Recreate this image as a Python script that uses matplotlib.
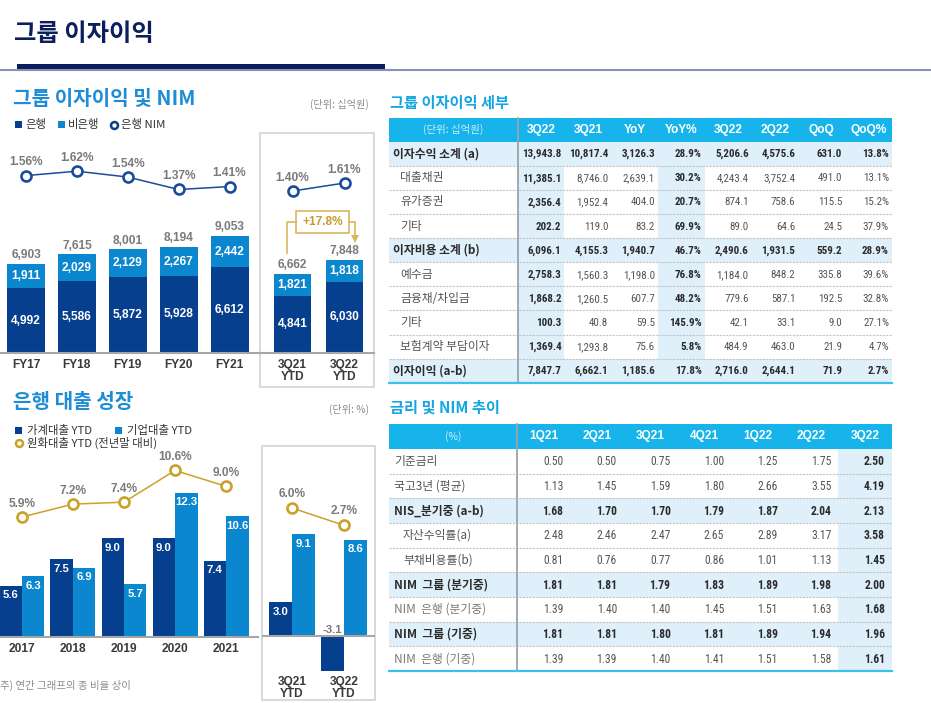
import matplotlib

matplotlib.use("Agg")
import matplotlib.pyplot as plt
from matplotlib import font_manager
from matplotlib.patches import Polygon, Rectangle

W, H = 931, 703

# group net interest income (KRW bn) and bank NIM
fy_labels = ["FY17", "FY18", "FY19", "FY20", "FY21"]
bank_nii = [4992, 5586, 5872, 5928, 6612]
nonbank_nii = [1911, 2029, 2129, 2267, 2442]
total_nii = [6903, 7615, 8001, 8194, 9053]
bank_nim = [1.56, 1.62, 1.54, 1.37, 1.41]

ytd_labels = ["3Q21\nYTD", "3Q22\nYTD"]
bank_nii_ytd = [4841, 6030]
nonbank_nii_ytd = [1821, 1818]
total_nii_ytd = [6662, 7848]
bank_nim_ytd = [1.40, 1.61]
nii_yoy_text = "+17.8%"

# bank loan growth (%)
loan_years = ["2017", "2018", "2019", "2020", "2021"]
household_growth = [5.6, 7.5, 9.0, 9.0, 7.4]
corporate_growth = [6.3, 6.9, 5.7, 12.3, 10.6]
krw_loan_growth = [5.9, 7.2, 7.4, 10.6, 9.0]
household_ytd = [3.0, -3.1]
corporate_ytd = [9.1, 8.6]
krw_loan_ytd = [6.0, 2.7]

# table: group interest income detail
detail_cols = ["3Q22", "3Q21", "YoY", "YoY%", "3Q22", "2Q22", "QoQ", "QoQ%"]
detail_rows = ["이자수익 소계 (a)", "대출채권", "유가증권", "기타", "이자비용 소계 (b)",
               "예수금", "금융채/차입금", "기타", "보험계약 부담이자", "이자이익 (a-b)"]
detail_values = [
    [13943.8, 10817.4, 3126.3, 28.9, 5206.6, 4575.6, 631.0, 13.8],
    [11385.1, 8746.0, 2639.1, 30.2, 4243.4, 3752.4, 491.0, 13.1],
    [2356.4, 1952.4, 404.0, 20.7, 874.1, 758.6, 115.5, 15.2],
    [202.2, 119.0, 83.2, 69.9, 89.0, 64.6, 24.5, 37.9],
    [6096.1, 4155.3, 1940.7, 46.7, 2490.6, 1931.5, 559.2, 28.9],
    [2758.3, 1560.3, 1198.0, 76.8, 1184.0, 848.2, 335.8, 39.6],
    [1868.2, 1260.5, 607.7, 48.2, 779.6, 587.1, 192.5, 32.8],
    [100.3, 40.8, 59.5, 145.9, 42.1, 33.1, 9.0, 27.1],
    [1369.4, 1293.8, 75.6, 5.8, 484.9, 463.0, 21.9, 4.7],
    [7847.7, 6662.1, 1185.6, 17.8, 2716.0, 2644.1, 71.9, 2.7],
]
detail_bold_rows = [0, 4, 9]
detail_pct_cols = [3, 7]

# table: rates and NIM trend (%)
rate_cols = ["1Q21", "2Q21", "3Q21", "4Q21", "1Q22", "2Q22", "3Q22"]
rate_rows = ["기준금리", "국고3년 (평균)", "NIS_분기중 (a-b)", "자산수익률(a)", "부채비용률(b)",
             "NIM  그룹 (분기중)", "NIM  은행 (분기중)", "NIM  그룹 (기중)", "NIM  은행 (기중)"]
rate_values = [
    [0.50, 0.50, 0.75, 1.00, 1.25, 1.75, 2.50],
    [1.13, 1.45, 1.59, 1.80, 2.66, 3.55, 4.19],
    [1.68, 1.70, 1.70, 1.79, 1.87, 2.04, 2.13],
    [2.48, 2.46, 2.47, 2.65, 2.89, 3.17, 3.58],
    [0.81, 0.76, 0.77, 0.86, 1.01, 1.13, 1.45],
    [1.81, 1.81, 1.79, 1.83, 1.89, 1.98, 2.00],
    [1.39, 1.40, 1.40, 1.45, 1.51, 1.63, 1.68],
    [1.81, 1.81, 1.80, 1.81, 1.89, 1.94, 1.96],
    [1.39, 1.39, 1.40, 1.41, 1.51, 1.58, 1.61],
]
rate_bold_rows = [2, 5, 7]
rate_indent_rows = [3, 4]
rate_light_rows = [6, 8]

NAVY = "#063f8e"
SKY = "#0b87d0"
GOLD = "#c9a227"
GREY_LABEL = "#7a7a7a"
TITLE_BLUE = "#1f8dd6"
TABLE_CYAN = "#16b4ea"
SHADE = "#dff0fb"


def first_font(names):
    for name in names:
        try:
            font_manager.findfont(font_manager.FontProperties(family=name), fallback_to_default=False)
            return name
        except ValueError:
            continue
    return None


LATIN = first_font(["Liberation Sans", "Arimo"]) or "DejaVu Sans"
NARROW = first_font(["Liberation Sans Narrow", "Arial Narrow", "Roboto Condensed", "DejaVu Sans Condensed"])
KR = first_font(["Noto Sans CJK KR", "Noto Sans CJK SC"]) or "DejaVu Sans"
plt.rcParams["font.family"] = [LATIN, KR, "DejaVu Sans"]
if NARROW:
    NUM_FONT, NUM_SIZE_1, NUM_SIZE_2 = NARROW, 7.9, 8.4
else:
    NUM_FONT, NUM_SIZE_1, NUM_SIZE_2 = LATIN, 7.8, 8.0

fig = plt.figure(figsize=(W / 100, H / 100), dpi=100)
canvas = fig.add_axes([0, 0, 1, 1])
canvas.set_xlim(0, W)
canvas.set_ylim(H, 0)
canvas.axis("off")


def px_axes(x0, y0, x1, y1):
    ax = fig.add_axes([x0 / W, 1 - y1 / H, (x1 - x0) / W, (y1 - y0) / H])
    ax.set_facecolor("none")
    return ax


def kr_text(x, y, s, size, color, weight="normal", ha="left", va="center"):
    canvas.text(x, y, s, fontsize=size, color=color, fontweight=weight, ha=ha, va=va,
                family=[KR, "DejaVu Sans"])


# ---- header ----
canvas.plot([0, W], [70, 70], color="#8893b3", lw=1.5, solid_capstyle="butt")
canvas.add_patch(Rectangle((17, 64), 368, 6.5, color="#0b1d5c", lw=0))
kr_text(14, 34, "그룹 이자이익", 17.5, "#0b1f5c", "bold")

# ---- left top panel ----
kr_text(13, 98, "그룹 이자이익 및 NIM", 14.5, TITLE_BLUE, "bold")
kr_text(369, 104, "(단위: 십억원)", 7.3, "#8c8c8c", ha="right")
canvas.add_patch(Rectangle((15, 121), 6.5, 6.5, color=NAVY, lw=0))
kr_text(25, 124.5, "은행", 8.2, "#333333")
canvas.add_patch(Rectangle((58, 121), 6.5, 6.5, color=SKY, lw=0))
kr_text(68, 124.5, "비은행", 8.2, "#333333")
canvas.plot([113.5], [124.5], marker="o", ms=5, mfc="white", mec=NAVY, mew=1.8)
kr_text(121, 124.5, "은행 NIM", 8.2, "#333333")
canvas.add_patch(Rectangle((260, 133), 114, 254, fill=False, ec="#d3d3d3", lw=1.2))


def style_base(ax, labels, pad, size=8.6):
    ax.set_xticks(range(len(labels)), labels, fontweight="bold", color="#3a3a3a", fontsize=size,
                  linespacing=1.0)
    ax.tick_params(axis="x", length=0, pad=pad)
    ax.set_yticks([])
    for side in ["top", "right", "left"]:
        ax.spines[side].set_visible(False)
    ax.spines["bottom"].set_color("#a6a6a6")
    ax.spines["bottom"].set_linewidth(1.5)


def stacked(ax, bank, nonbank, total, width):
    x = list(range(len(bank)))
    ax.bar(x, bank, width, color=NAVY, lw=0)
    ax.bar(x, nonbank, width, bottom=bank, color=SKY, lw=0)
    for i in x:
        ax.text(i, bank[i] / 2, f"{bank[i]:,}", ha="center", va="center", color="white",
                fontsize=8.6, fontweight="bold")
        ax.text(i, bank[i] + nonbank[i] / 2, f"{nonbank[i]:,}", ha="center", va="center",
                color="white", fontsize=8.6, fontweight="bold")
        ax.annotate(f"{total[i]:,}", (i, total[i]), xytext=(0, 2), textcoords="offset points",
                    ha="center", va="bottom", color=GREY_LABEL, fontsize=8.6, fontweight="bold")


def nim_line(ax, values, color, fmt="{:.2f}%", off=9.5):
    x = list(range(len(values)))
    ax.plot(x, values, color=color, lw=1.1, marker="o", ms=7.2, mfc="white", mec=color, mew=1.9)
    for i, v in enumerate(values):
        ax.annotate(fmt.format(v), (i, v), xytext=(0, off), textcoords="offset points",
                    ha="center", va="center", color=GREY_LABEL, fontsize=8.6, fontweight="bold")
    ax.axis("off")


ax1 = px_axes(0, 135, 258, 352.7)
ax1.set_xlim(-0.511, 4.558)
ax1.set_ylim(0, 217.7 / 0.0129)
stacked(ax1, bank_nii, nonbank_nii, total_nii, 0.75)
style_base(ax1, fy_labels, 4.3)
ax1n = px_axes(0, 135, 258, 352.7)
ax1n.set_xlim(ax1.get_xlim())
ax1n.set_ylim(-0.8595, 2.1145)
nim_line(ax1n, bank_nim, "#1a4c9c")

ax2 = px_axes(260, 135, 374, 352.7)
ax2.set_xlim(-0.625, 1.567)
ax2.set_ylim(0, 217.7 / 0.0118)
stacked(ax2, bank_nii_ytd, nonbank_nii_ytd, total_nii_ytd, 0.71)
style_base(ax2, ytd_labels, 4.3)
ax2n = px_axes(260, 135, 374, 352.7)
ax2n.set_xlim(ax2.get_xlim())
ax2n.set_ylim(-2.855, 2.874)
nim_line(ax2n, bank_nim_ytd, "#1a4c9c")

# YoY callout
canvas.plot([287, 287, 296], [253, 222, 222], color="#d9b55e", lw=1.2)
canvas.plot([349, 355, 355], [222, 222, 236], color="#d9b55e", lw=1.2)
canvas.add_patch(Polygon([(351, 235), (359, 235), (355, 243)], closed=True, color="#d9b55e", lw=0))
canvas.add_patch(Rectangle((296, 211), 53, 22, fc="white", ec="#d9b55e", lw=1.2))
canvas.text(322.5, 222, nii_yoy_text, ha="center", va="center", fontsize=8.6, fontweight="bold",
            color="#c99a2e")

# ---- left bottom panel ----
kr_text(13, 402, "은행 대출 성장", 14.5, TITLE_BLUE, "bold")
kr_text(369, 409, "(단위: %)", 7.3, "#8c8c8c", ha="right")
canvas.add_patch(Rectangle((15, 427), 6.5, 6.5, color=NAVY, lw=0))
kr_text(27, 430.5, "가계대출 YTD", 8.2, "#333333")
canvas.add_patch(Rectangle((115, 427), 6.5, 6.5, color=SKY, lw=0))
kr_text(127, 430.5, "기업대출 YTD", 8.2, "#333333")
canvas.plot([18.5], [443], marker="o", ms=5, mfc="white", mec=GOLD, mew=1.8)
kr_text(27, 443, "원화대출 YTD (전년말 대비)", 8.2, "#333333")
kr_text(0, 685, "주) 연간 그래프의 종 비율 상이", 7.5, "#8c8c8c")
canvas.add_patch(Rectangle((262, 446), 113, 254, fill=False, ec="#d3d3d3", lw=1.2))


def paired(ax, dark, light, width):
    x = list(range(len(dark)))
    ax.bar([i - width / 2 for i in x], dark, width, color=NAVY, lw=0)
    ax.bar([i + width / 2 for i in x], light, width, color=SKY, lw=0)
    for i in x:
        for xx, v in [(i - width / 2, dark[i]), (i + width / 2, light[i])]:
            if v >= 0:
                ax.annotate(f"{v:.1f}", (xx, v), xytext=(0, -7), textcoords="offset points",
                            ha="center", va="center", color="white", fontsize=8.2, fontweight="bold")
            else:
                ax.annotate(f"{v:.1f}", (xx, 0), xytext=(0, 1), textcoords="offset points",
                            ha="center", va="bottom", color=GREY_LABEL, fontsize=8.2,
                            fontweight="bold")


ax3 = px_axes(0, 450, 258, 636.7)
ax3.set_xlim(-0.431, 4.627)
ax3.set_ylim(1.93, 1.93 + 186.7 / 13.9)
paired(ax3, household_growth, corporate_growth, 0.441)
style_base(ax3, loan_years, 4.3)
ax3n = px_axes(0, 450, 258, 636.7)
ax3n.set_xlim(ax3.get_xlim())
ax3n.set_ylim(-6.19, 12.668)
nim_line(ax3n, krw_loan_growth, GOLD, "{:.1f}%", 9.5)

ax4 = px_axes(262, 450, 375, 672)
ax4.set_xlim(-0.577, 1.596)
ax4.set_ylim(-36 / 11.2, 186 / 11.2)
paired(ax4, household_ytd, corporate_ytd, 0.433)
style_base(ax4, ytd_labels, 3.0)
ax4.spines["bottom"].set_visible(False)
ax4.axhline(0, color="#a6a6a6", lw=1.5)
ax4n = px_axes(262, 450, 375, 672)
ax4n.set_xlim(ax4.get_xlim())
ax4n.set_ylim(6 - 164 / 5.25, 6 + 58 / 5.25)
nim_line(ax4n, krw_loan_ytd, GOLD, "{:.1f}%", 10)


# ---- tables ----
def draw_table(top, head_h, row_h, sep, cols, rows, values, fmt_cell, bold_rows, shade_cols,
               first_head, label_x, label_color, val_pad, num_size):
    x0, x1 = 389, 892
    col_w = (x1 - sep) / len(cols)
    canvas.add_patch(Rectangle((x0, top), x1 - x0, head_h, color=TABLE_CYAN, lw=0))
    kr_text((x0 + sep) / 2, top + head_h / 2, first_head, 7.5, "#cdeefc", ha="center")
    for j, c in enumerate(cols):
        canvas.text(sep + col_w * (j + 0.5), top + head_h / 2, c, ha="center", va="center",
                    color="white", fontsize=8.6, fontweight="bold")
    body = top + head_h
    for r in range(len(rows)):
        y = body + r * row_h
        if r in bold_rows:
            canvas.add_patch(Rectangle((x0, y), x1 - x0, row_h, color=SHADE, lw=0))
        for j in shade_cols:
            canvas.add_patch(Rectangle((sep + col_w * j, y), col_w, row_h, color=SHADE, lw=0))
        if r > 0:
            canvas.plot([x0, x1], [y, y], color="#c4c4c4", lw=0.8, ls=(0, (2, 1)))
        bold = r in bold_rows
        kr_text(label_x(r), y + row_h / 2, rows[r], 8.5, label_color(r), "bold" if bold else "normal")
        for j, v in enumerate(values[r]):
            cell_bold = bold or j in shade_cols
            canvas.text(sep + col_w * (j + 1) - val_pad, y + row_h / 2 + 0.5, fmt_cell(j, v),
                        ha="right", va="center", fontsize=num_size, family=[NUM_FONT, LATIN],
                        fontweight="bold" if cell_bold else "normal",
                        color="#2b2b2b" if cell_bold else "#555555")
    bottom = body + len(rows) * row_h
    canvas.plot([sep, sep], [top, bottom], color="#9aa3ad", lw=1.3)
    canvas.plot([x0, x1], [bottom, bottom], color="#3cc0ee", lw=1.6)


kr_text(390, 103, "그룹 이자이익 세부", 11, "#12a6e3", "bold")
draw_table(118, 23.7, 24.1, 517.7, detail_cols, detail_rows, detail_values,
           lambda j, v: f"{v:.1f}%" if j in detail_pct_cols else f"{v:,.1f}",
           detail_bold_rows, [0, 3], "(단위: 십억원)",
           lambda r: 393 if r in detail_bold_rows else 400,
           lambda r: "#2b2b2b" if r in detail_bold_rows else "#555555", 3.0, NUM_SIZE_1)

kr_text(390, 408, "금리 및 NIM 추이", 11, "#12a6e3", "bold")
draw_table(424, 25, 24.67, 516.7, rate_cols, rate_rows, rate_values,
           lambda j, v: f"{v:.2f}", rate_bold_rows, [6], "(%)",
           lambda r: 403 if r in rate_indent_rows else 394,
           lambda r: "#2b2b2b" if r in rate_bold_rows else ("#7a7a7a" if r in rate_light_rows else "#555555"),
           7.0, NUM_SIZE_2)

fig.savefig("out.png", dpi=100)
